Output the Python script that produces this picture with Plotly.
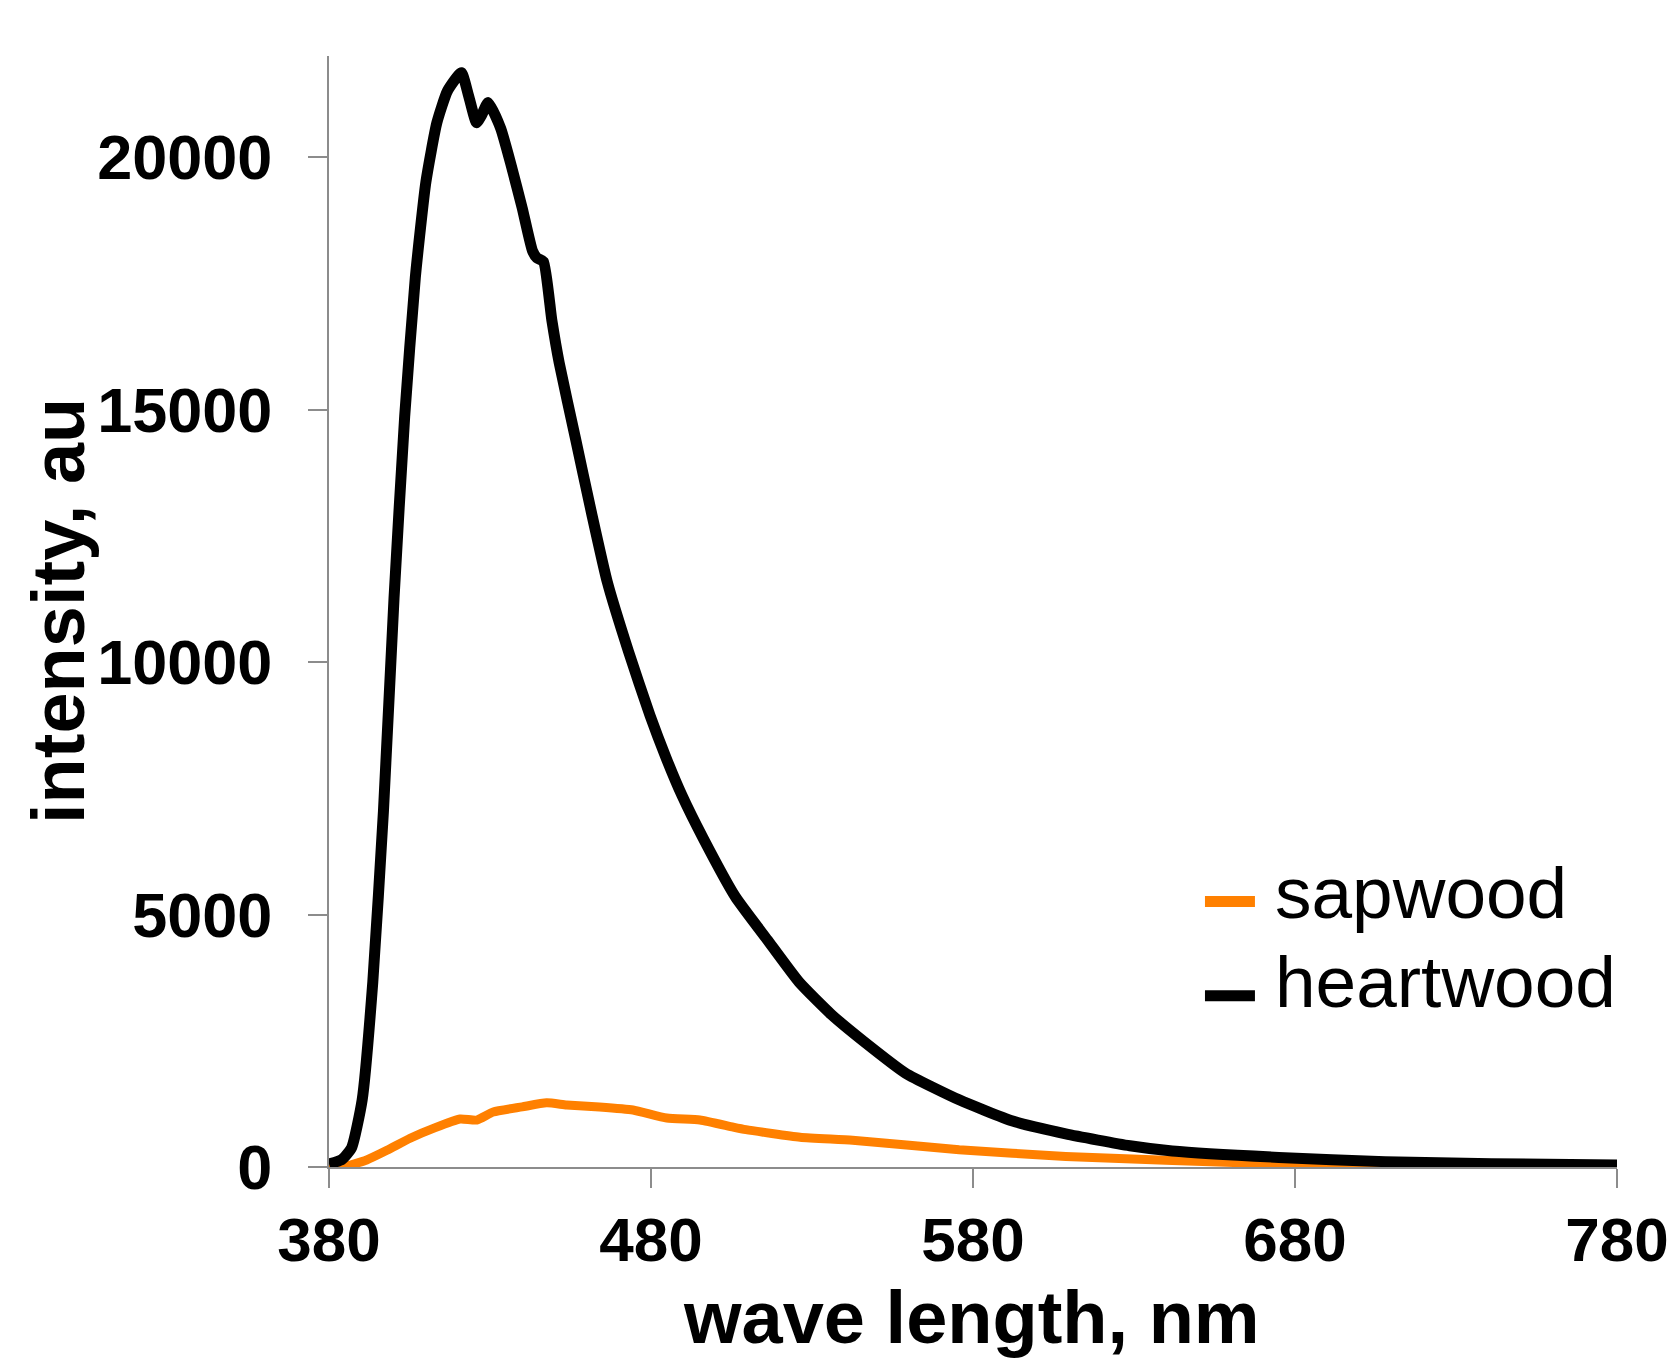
import plotly.graph_objects as go

# heartwood spectrum (wave length nm, intensity au)
heart_x = [380, 384, 387, 390.3, 393.6, 396.9, 400.2, 403.5, 406.8, 410.1, 413.5, 416.8, 421.1,
           423.4, 425.8, 427.4, 429.4, 433.3, 436.6, 440, 443.2, 444.6, 446.6, 449.2, 451.5,
           456.5, 461.5, 466.4, 473, 479.7, 484.7, 489.6, 496.2, 506.2, 516.1, 526, 536, 546,
           559, 575.7, 592.3, 608.8, 628.7, 641.9, 675, 708, 741, 780]
heart_y = [60, 150, 380, 1330, 3660, 7040, 11270, 14860, 17610, 19510, 20680, 21310, 21670,
           21200, 20680, 20830, 21080, 20570, 19830, 18990, 18140, 18000, 17930, 16770, 15920,
           14440, 12960, 11590, 10210, 8940, 8100, 7360, 6510, 5350, 4500, 3660, 3020, 2490,
           1860, 1330, 910, 655, 420, 317, 190, 106, 63, 42]

# sapwood spectrum
sap_x = [380, 384.3, 391.7, 398, 405.2, 413, 420.7, 425.9, 431, 440, 447.6, 453.8, 464, 474.4,
         484.9, 495.2, 505.5, 509.5, 526.3, 542.6, 575.7, 608.8, 641.9, 675, 708, 741, 780]
sap_y = [0, 0, 140, 330, 570, 780, 950, 930, 1090, 1190, 1270, 1230, 1190, 1130,
         970, 930, 790, 740, 590, 530, 340, 210, 127, 63, 21, 0, 0]

series_names = ["sapwood", "heartwood"]
series_colors = ["#FF8000", "#000000"]

x_ticks = [380, 480, 580, 680, 780]
y_ticks = [0, 5000, 10000, 15000, 20000]

FONT = "Liberation Sans, Arial, sans-serif"
AXIS_GRAY = "#8c8c8c"

fig = go.Figure()
fig.add_trace(go.Scatter(x=sap_x, y=sap_y, mode="lines", name=series_names[0], showlegend=False,
                         line=dict(color=series_colors[0], width=9, shape="spline", smoothing=0.5)))
fig.add_trace(go.Scatter(x=heart_x, y=heart_y, mode="lines", name=series_names[1], showlegend=False,
                         line=dict(color=series_colors[1], width=11, shape="spline", smoothing=0.5)))

# legend drawn as line samples + labels
sample_y = [0.2389, 0.1542]
label_y = [0.2475, 0.1674]
shapes = []
annotations = []
for name, color, sy, ly in zip(series_names, series_colors, sample_y, label_y):
    shapes.append(dict(type="line", xref="paper", yref="paper", x0=0.6801, x1=0.7189, y0=sy, y1=sy,
                       line=dict(color=color, width=11)))
    annotations.append(dict(text=name, xref="paper", yref="paper", x=0.733, y=ly,
                            xanchor="left", yanchor="middle", showarrow=False,
                            font=dict(family=FONT, size=73, color="black")))

# axis titles
annotations.append(dict(text="<b>intensity, au</b>", xref="paper", yref="paper", x=-0.2096, y=0.5005,
                        xanchor="center", yanchor="middle", textangle=-90, showarrow=False,
                        font=dict(family=FONT, size=74, color="black")))
annotations.append(dict(text="<b>wave length, nm</b>", xref="paper", yref="paper", x=0.4992, y=-0.1352,
                        xanchor="center", yanchor="middle", showarrow=False,
                        font=dict(family=FONT, size=74, color="black")))

fig.update_layout(
    width=1672, height=1365,
    margin=dict(l=329, r=55, t=56, b=198),
    paper_bgcolor="white", plot_bgcolor="white",
    showlegend=False,
    shapes=shapes,
    annotations=annotations,
    xaxis=dict(range=[380, 780], tickvals=x_ticks, ticktext=[str(v) for v in x_ticks],
               showgrid=False, zeroline=False, showline=True, linecolor=AXIS_GRAY, linewidth=2,
               ticks="outside", ticklen=19, tickwidth=2, tickcolor=AXIS_GRAY,
               tickfont=dict(family=FONT, size=62, color="black", weight="bold"),
               ticklabelstandoff=-1,
               automargin=False),
    yaxis=dict(range=[0, 22000], tickvals=y_ticks, ticktext=[str(v) for v in y_ticks],
               showgrid=False, zeroline=False, showline=True, linecolor=AXIS_GRAY, linewidth=2,
               ticks="outside", ticklen=19, tickwidth=2, tickcolor=AXIS_GRAY,
               tickfont=dict(family=FONT, size=63, color="black", weight="bold"),
               ticklabelstandoff=23,
               automargin=False),
)

fig.write_html("out.html",
               config={"displayModeBar": False},
               post_script="document.body.style.margin='0';document.body.style.overflow='hidden';"
                           "document.documentElement.style.overflow='hidden';")
